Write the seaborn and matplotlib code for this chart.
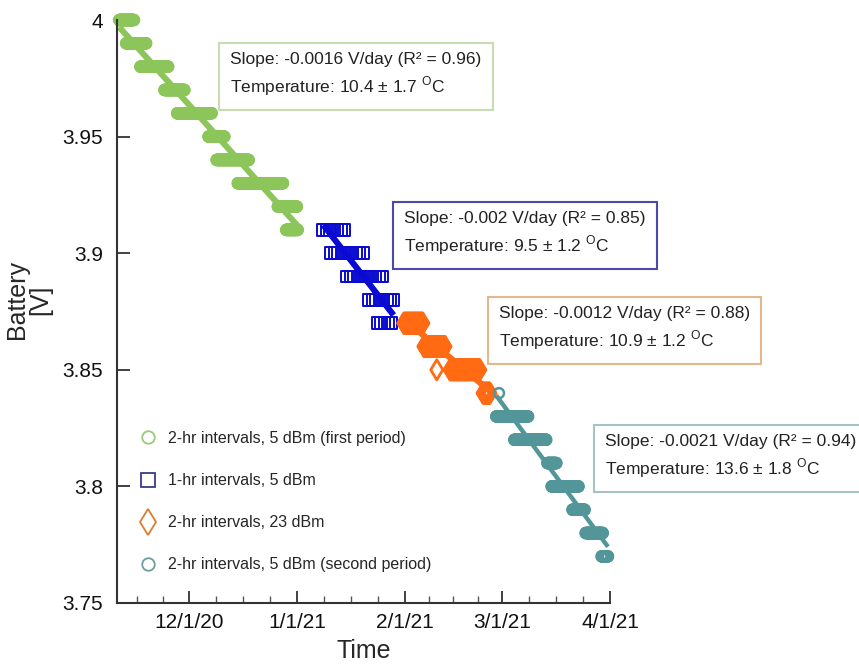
import pandas as pd
import matplotlib
matplotlib.use("Agg")
import matplotlib.pyplot as plt
import matplotlib.dates as mdates
from matplotlib.lines import Line2D
from matplotlib.ticker import FuncFormatter, MultipleLocator, FixedLocator
import seaborn as sns

# Battery readings come in flat runs (0.01 V resolution): level, first and last reading of the run
GREEN_LEVEL = [4.00, 3.99, 3.98, 3.97, 3.96, 3.95, 3.94, 3.93, 3.92, 3.91]
GREEN_START = ["2020-11-10 22:00", "2020-11-12 22:00", "2020-11-17 00:00", "2020-11-23 22:00",
               "2020-11-27 14:00", "2020-12-06 14:00", "2020-12-08 22:00", "2020-12-15 00:00",
               "2020-12-26 12:00", "2020-12-28 22:00"]
GREEN_END = ["2020-11-15 05:00", "2020-11-18 17:00", "2020-11-25 00:00", "2020-11-29 17:00",
             "2020-12-07 12:00", "2020-12-11 05:00", "2020-12-18 05:00", "2020-12-28 00:00",
             "2021-01-01 00:00", "2021-01-01 07:00"]

BLUE_LEVEL = [3.91, 3.90, 3.89, 3.88, 3.87]
BLUE_START = ["2021-01-08 14:00", "2021-01-10 22:00", "2021-01-15 12:00", "2021-01-21 19:00",
              "2021-01-24 05:00"]
BLUE_END = ["2021-01-15 12:00", "2021-01-20 02:00", "2021-01-25 14:00", "2021-01-29 02:00",
            "2021-01-29 02:00"]

ORANGE_LEVEL = [3.87, 3.86, 3.85, 3.85, 3.84]
ORANGE_START = ["2021-01-31 17:00", "2021-02-06 12:00", "2021-02-10 05:00", "2021-02-14 00:00",
                "2021-02-23 12:00"]
ORANGE_END = ["2021-02-06 05:00", "2021-02-12 14:00", "2021-02-10 05:00", "2021-02-22 14:00",
              "2021-02-25 12:00"]

TEAL_LEVEL = [3.84, 3.83, 3.82, 3.81, 3.80, 3.79, 3.78, 3.77]
TEAL_START = ["2021-02-28 02:00", "2021-02-27 07:00", "2021-03-04 12:00", "2021-03-14 00:00",
              "2021-03-15 05:00", "2021-03-21 05:00", "2021-03-25 00:00", "2021-03-29 14:00"]
TEAL_END = ["2021-02-28 02:00", "2021-03-08 12:00", "2021-03-13 17:00", "2021-03-16 14:00",
            "2021-03-23 00:00", "2021-03-24 17:00", "2021-03-29 22:00", "2021-03-31 10:00"]

LABELS = ["2-hr intervals, 5 dBm (first period)", "1-hr intervals, 5 dBm",
          "2-hr intervals, 23 dBm", "2-hr intervals, 5 dBm (second period)"]
BOX_TEXT = [
    "Slope: -0.0016 V/day (R\u00b2 = 0.96)\nTemperature: 10.4 \u00b1 1.7 $^{\\mathrm{O}}$C",
    "Slope: -0.002 V/day (R\u00b2 = 0.85)\nTemperature: 9.5 \u00b1 1.2 $^{\\mathrm{O}}$C",
    "Slope: -0.0012 V/day (R\u00b2 = 0.88)\nTemperature: 10.9 \u00b1 1.2 $^{\\mathrm{O}}$C",
    "Slope: -0.0021 V/day (R\u00b2 = 0.94)\nTemperature: 13.6 \u00b1 1.8 $^{\\mathrm{O}}$C",
]

COLORS = ["#8cc65a", "#0a0ad2", "#ff6a12", "#52969a"]
LEGEND_COLORS = ["#9cc87a", "#3a3a8a", "#e07a30", "#6a9ea0"]
BOX_EDGES = ["#c8dcb4", "#4a4aa8", "#e2b88c", "#a6c2c2"]


def expand(levels, starts, ends, step):
  # turn each flat run into its individual readings
  rows = []
  for lv, s, e in zip(levels, starts, ends):
    for t in pd.date_range(s, e, freq=step):
      rows.append((mdates.date2num(t), lv))
  return pd.DataFrame(rows, columns=["t", "battery"])


sns.set_theme(style="white")
plt.rcParams["font.family"] = ["Liberation Sans", "DejaVu Sans"]
plt.rcParams["mathtext.fontset"] = "custom"
plt.rcParams["mathtext.rm"] = "Liberation Sans"

fig = plt.figure(figsize=(8.59, 6.64), dpi=100)
ax = fig.add_axes([117 / 859, 1 - 603 / 664, 493 / 859, 583 / 664])

series = [
  (expand(GREEN_LEVEL, GREEN_START, GREEN_END, "2h"), "o", 52, 1.8, 4.4),
  (expand(BLUE_LEVEL, BLUE_START, BLUE_END, "24h"), "s", 72, 1.4, 4.4),
  (expand(ORANGE_LEVEL, ORANGE_START, ORANGE_END, "2h"), "d", 105, 2.0, 4.4),
  (expand(TEAL_LEVEL, TEAL_START, TEAL_END, "2h"), "o", 52, 1.8, 3.2),
]

for (df, mk, size, ew, lw), c in zip(series, COLORS):
  sns.scatterplot(data=df, x="t", y="battery", ax=ax, marker=mk, s=size,
                  facecolor="none", edgecolor=c, linewidth=ew, clip_on=False, legend=False)
for (df, mk, size, ew, lw), c in zip(series, COLORS):
  sns.regplot(data=df, x="t", y="battery", ax=ax, scatter=False, ci=None, truncate=True,
              line_kws=dict(color=c, lw=lw, solid_capstyle="butt"))

ax.set_xlim(mdates.date2num(pd.Timestamp("2020-11-10 07:00")), mdates.date2num(pd.Timestamp("2021-04-01")))
ax.set_ylim(3.75, 4.0)

months = pd.date_range("2020-11-01", "2021-04-01", freq="MS")
ax.xaxis.set_major_locator(FixedLocator(mdates.date2num(months[1:])))
minor = []
for a, b in zip(months[:-1], months[1:]):
  a, b = mdates.date2num(a), mdates.date2num(b)
  minor += [a + k * (b - a) / 4 for k in (1, 2, 3)]
ax.xaxis.set_minor_locator(FixedLocator(minor))
ax.xaxis.set_major_formatter(FuncFormatter(
  lambda v, p: "{}/{}/{}".format(mdates.num2date(v).month, mdates.num2date(v).day, mdates.num2date(v).year % 100)))
ax.yaxis.set_major_locator(MultipleLocator(0.05))
ax.yaxis.set_major_formatter(FuncFormatter(lambda v, p: "{:g}".format(round(v, 2))))

ax.tick_params(axis="both", which="major", direction="in", length=9, width=1.3,
               color="#333333", labelsize=15, labelcolor="#111111")
ax.tick_params(axis="x", which="minor", direction="in", length=5, width=1.0, color="#555555")
ax.tick_params(axis="x", which="both", bottom=True, pad=7)
ax.tick_params(axis="y", which="major", left=True, pad=10)

sns.despine(ax=ax)
for side in ["left", "bottom"]:
  ax.spines[side].set_color("#333333")
  ax.spines[side].set_linewidth(1.5)

ax.set_xlabel("Time", fontsize=18, labelpad=5)
ax.set_ylabel("Battery\n[V]", fontsize=18, linespacing=0.95, va="center")
ax.yaxis.set_label_coords(-88 / 493, 0.52)

handles = [Line2D([], [], ls="none", marker=m, markersize=sz, markerfacecolor="none",
                  markeredgecolor=c, markeredgewidth=1.3)
           for m, sz, c in zip(["o", "s", "d", "o"], [9, 10, 13, 9], LEGEND_COLORS)]
ax.legend(handles, LABELS, loc="upper left", bbox_to_anchor=(140 / 859, 1 - 431 / 664),
          bbox_transform=fig.transFigure, frameon=False, fontsize=11.5, labelspacing=1.7,
          handlelength=1.0, handletextpad=0.75, borderpad=0, borderaxespad=0)

box_xy = [(230, 75), (404, 234), (499, 329), (605, 457)]
for (bx, by), txt, ec in zip(box_xy, BOX_TEXT, BOX_EDGES):
  fig.text(bx / 859, 1 - by / 664, txt, ha="left", va="center", fontsize=12.5,
           color="#222222", linespacing=1.45,
           bbox=dict(boxstyle="square,pad=0.65", fc="white", ec=ec, lw=1.5))

fig.savefig("out.png", dpi=100)
